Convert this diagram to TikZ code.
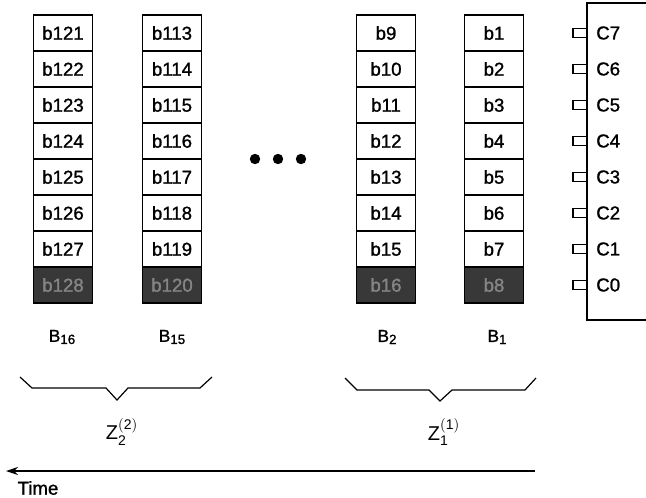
\documentclass[tikz,border=0pt]{standalone}
\usepackage{fontspec}
\setmainfont{Liberation Sans}
\newfontfamily\medfont[FakeBold=1.2]{Liberation Sans}
\usetikzlibrary{arrows.meta}
\newcommand{\lowsub}[1]{\raisebox{-1.6pt}{\fontsize{10}{11}\selectfont #1}}
\begin{document}
\begin{tikzpicture}[x=0.75pt,y=-0.75pt,
  cellbox/.style={draw, line width=1.2pt, minimum width=44pt, minimum height=27pt, inner sep=0pt, font=\medfont\fontsize{14}{16}\selectfont},
  shadebox/.style={cellbox, fill=black!78, text=black!48},
  lbl/.style={inner sep=0pt, font=\medfont\fontsize{13}{15}\selectfont},
  zlbl/.style={inner sep=0pt, font=\medfont\fontsize{15}{17}\selectfont},
  thin/.style={line width=0.9pt}]
\useasboundingbox (0,0) rectangle (646,497);
% data columns
\foreach \cx/\st/\nm in {63/121/A,172/113/B,386/9/C,494/1/D}{
  \foreach \i in {0,...,6}{
    \pgfmathtruncatemacro\v{\st+\i}
    \node[cellbox] (\nm\i) at (\cx,{33+36*\i}) {b\v};
  }
  \pgfmathtruncatemacro\v{\st+7}
  \node[shadebox] (\nm7) at (\cx,285) {b\v};
}
% dots
\foreach \dx in {255,278,301}{\fill (\dx,159) circle (5.2);}
% register box
\draw[line width=1.2pt] (660,3) -- (587,3) -- (587,320) -- (660,320);
\foreach \k in {7,...,0}{
  \pgfmathsetmacro\yc{33+36*(7-\k)}
  \draw[thin] (587,\yc-4.5) -- (573,\yc-4.5) -- (573,\yc+4.5) -- (587,\yc+4.5);
  \node[lbl, anchor=west, font=\medfont\fontsize{14}{16}\selectfont] (C\k) at (596,\yc) {C\k};
}
% block labels
\node[lbl] (L16) at (62,337) {B\lowsub{16}};
\node[lbl] (L15) at (172,337) {B\lowsub{15}};
\node[lbl] (L2) at (387,337) {B\lowsub{2}};
\node[lbl] (L1) at (497,337) {B\lowsub{1}};
% braces
\draw[thin] (20,377) -- (32,388) -- (106,388) -- (117,400) -- (128,388) -- (200,388) -- (212,377);
\draw[thin] (345,378) -- (357,390) -- (429,390) -- (440,401) -- (452,390) -- (525,390) -- (536,378);
\node[zlbl] (Z2) at (122,432) {$\mathrm{Z}_{\mathrm{2}}^{\mathrm{(2)}}$};
\node[zlbl] (Z1) at (444,432) {$\mathrm{Z}_{\mathrm{1}}^{\mathrm{(1)}}$};
% time arrow
\coordinate (tR) at (535,471);
\coordinate (tL) at (6,471);
\draw[line width=1pt, -{Stealth[length=9pt,width=6pt]}] (tR) -- (tL);
\node[lbl, font=\medfont\fontsize{14}{16}\selectfont] (time) at (38,488) {Time};
\end{tikzpicture}
\end{document}
